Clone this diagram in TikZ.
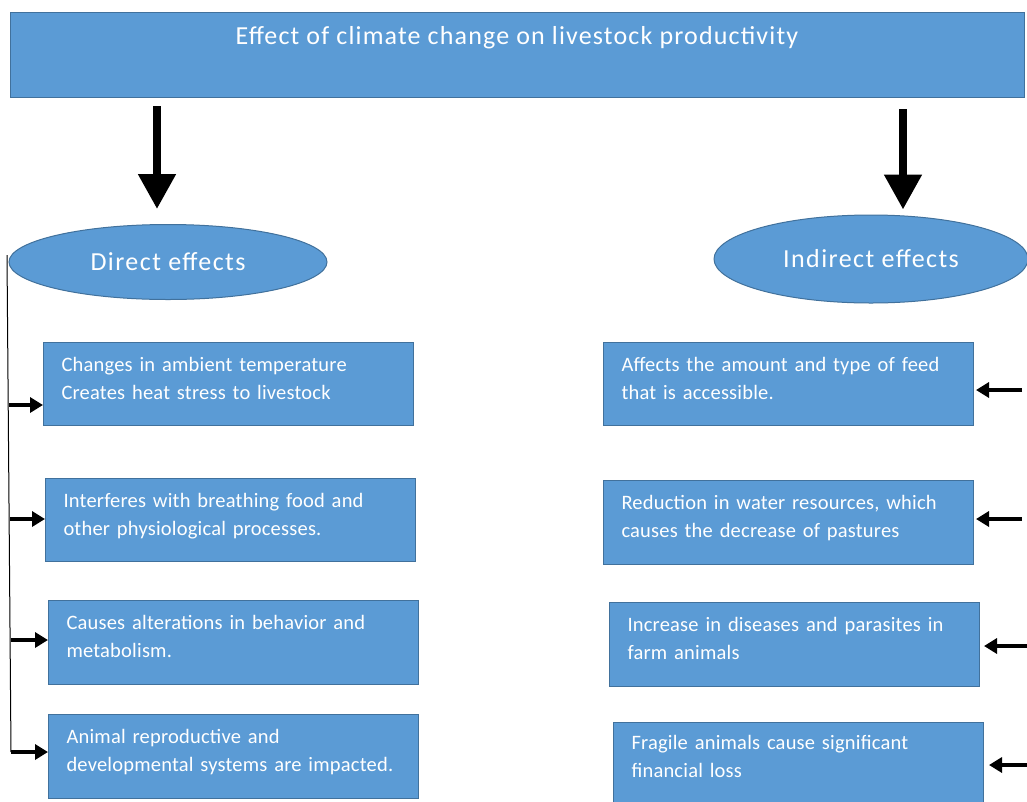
\documentclass[tikz,border=0pt]{standalone}
\usepackage{fontspec}
\setmainfont{Carlito}
\usetikzlibrary{shapes.geometric,arrows.meta}
\definecolor{boxfill}{HTML}{5B9BD5}
\definecolor{boxedge}{HTML}{41719C}
\begin{document}
\begin{tikzpicture}[x=1pt,y=-1pt,
  bluebox/.style={draw=boxedge, fill=boxfill, line width=1pt, rectangle,
    anchor=north west, minimum width=370pt, minimum height=83pt,
    text width=334pt, align=left, inner xsep=18pt, inner ysep=0pt,
    text depth=40pt, text=white,
    font=\fontsize{20.5}{28}\selectfont\addfontfeatures{LetterSpace=1}},
  oval/.style={draw=boxedge, fill=boxfill, line width=1pt, ellipse,
    text=white, font=\fontsize{26}{30}\selectfont\addfontfeatures{LetterSpace=5.5}},
  bigarrow/.style={line width=8pt, -{Triangle[width=36pt,length=35pt]}},
  smallarrow/.style={line width=3.5pt, -{Triangle[width=15pt,length=13pt]}},
]
\useasboundingbox (0,0) rectangle (1027,801);

% heading
\node[draw=boxedge, fill=boxfill, line width=1pt, rectangle, anchor=north west,
  minimum width=1014pt, minimum height=85pt] (top) at (10,12) {};
\node[text=white, font=\fontsize{26}{30}\selectfont\addfontfeatures{LetterSpace=4.5}]
  (title) at (517,38) {Effect of climate change on livestock productivity};

% the two branches
\node[oval, minimum width=318pt, minimum height=75pt] (direct) at (168,262) {Direct effects};
\node[oval, minimum width=314pt, minimum height=88pt] (indirect) at (871,259) {Indirect effects};

\coordinate (da) at (157,0);
\coordinate (ia) at (903,0);
\draw[bigarrow, shorten <=8pt, shorten >=15pt] (top.south -| da) -- (direct.north -| da);
\draw[bigarrow, shorten <=11pt, shorten >=5pt] (top.south -| ia) -- (indirect.north -| ia);

% direct effects
\node[bluebox] (l1) at (43,342) {Changes in ambient temperature\\Creates heat stress to livestock};
\node[bluebox] (l2) at (45,478) {Interferes with breathing food and\\other physiological processes.};
\node[bluebox, minimum height=84pt] (l3) at (48,600) {Causes alterations in behavior and\\metabolism.};
\node[bluebox, minimum height=84pt] (l4) at (48,714) {Animal reproductive and\\developmental systems are impacted.};

% indirect effects
\node[bluebox] (r1) at (603,342) {Affects the amount and type of feed\\that is accessible.};
\node[bluebox, minimum height=84pt] (r2) at (603,480) {Reduction in water resources, which\\causes the decrease of pastures};
\node[bluebox, minimum height=84pt] (r3) at (609,602) {Increase in diseases and parasites in\\farm animals};
\node[bluebox, minimum width=368pt, minimum height=80pt] (r4) at (613,722) {Fragile animals cause significant\\financial loss};

% bracket line with arrows into the direct-effect boxes
\coordinate (vtop) at (7,255);
\coordinate (vbot) at (11,752);
\draw[line width=1pt] (vtop) -- (vbot);
\coordinate (s1) at (9,405);
\coordinate (s2) at (10,519);
\coordinate (s3) at (11,640);
\coordinate (s4) at (11,752);
\draw[smallarrow] (s1) -- (l1.west |- s1);
\draw[smallarrow] (s2) -- (l2.west |- s2);
\draw[smallarrow] (s3) -- (l3.west |- s3);
\draw[smallarrow] (s4) -- (l4.west |- s4);

% arrows into the indirect-effect boxes
\coordinate (e1) at (1022,390);
\coordinate (e2) at (1022,519);
\coordinate (e3) at (1027,646);
\coordinate (e4) at (1027,765);
\draw[smallarrow] (e1) -- ([xshift=2pt]r1.east |- e1);
\draw[smallarrow] (e2) -- ([xshift=2pt]r2.east |- e2);
\draw[smallarrow] (e3) -- ([xshift=4pt]r3.east |- e3);
\draw[smallarrow] (e4) -- ([xshift=5pt]r4.east |- e4);
\end{tikzpicture}
\end{document}
